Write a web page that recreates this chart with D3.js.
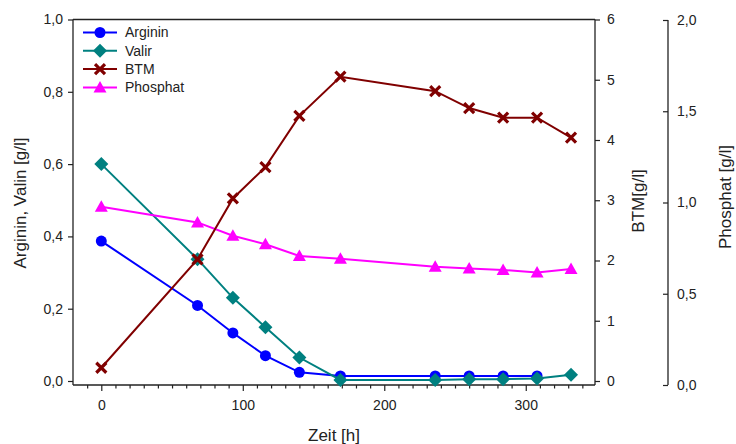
<!DOCTYPE html>
<html>
<head>
<meta charset="utf-8">
<script src="https://cdn.jsdelivr.net/npm/d3@7"></script>
<style>
  html, body { margin: 0; padding: 0; background: #fff; }
  svg { display: block; font-family: "Liberation Sans", Arial, sans-serif; }
</style>
</head>
<body>
<svg id="chart" width="736" height="444"></svg>
<script>
// Sampling times [h]
const hours = [0, 68, 93, 116, 140, 169, 236, 260, 284, 308, 332];
// Concentrations [g/l]; null = not measured
const arginin = [0.387, 0.209, 0.133, 0.070, 0.024, 0.014, 0.014, 0.014, 0.014, 0.014, null];
const valin = [0.600, 0.337, 0.230, 0.149, 0.065, 0.003, 0.003, 0.005, 0.005, 0.007, 0.017];
const btm = [0.22, 2.02, 3.03, 3.55, 4.40, 5.05, 4.81, 4.53, 4.37, 4.37, 4.04];
const phosphat = [0.977, 0.891, 0.818, 0.771, 0.707, 0.692, 0.648, 0.639, 0.630, 0.617, 0.636];

const xMajorTicks = [0, 100, 200, 300];
const leftTicks = [0, 0.2, 0.4, 0.6, 0.8, 1.0];
const btmTicks = [0, 1, 2, 3, 4, 5, 6];
const phosTicks = [0, 0.5, 1.0, 1.5, 2.0];

const seriesNames = ["Arginin", "Valir", "BTM", "Phosphat"];
const colors = { arginin: "#0000ff", valin: "#008080", btm: "#800000", phosphat: "#ff00ff" };

const svg = d3.select("#chart");
const ink = "#222";
const fmt1 = v => d3.format(".1f")(v).replace(".", ",");

const plotLeft = 73, plotRight = 595, plotTop = 19.5, plotBottom = 385, zeroY = 381;
const phosX = 668;

const x = d3.scaleLinear().domain([-20, 350]).range([plotLeft, 596.5]);
const yL = d3.scaleLinear().domain([0, 1]).range([zeroY, plotTop]);
const yB = d3.scaleLinear().domain([0, 6]).range([zeroY, plotTop]);
const yP = d3.scaleLinear().domain([0, 2]).range([plotBottom, 20]);

// Frame lines
const frame = svg.append("g").attr("stroke", ink).attr("stroke-width", 1.3).attr("fill", "none");
frame.append("line").attr("x1", plotLeft).attr("x2", plotRight).attr("y1", plotBottom).attr("y2", plotBottom);
frame.append("line").attr("x1", plotLeft).attr("x2", plotRight).attr("y1", plotTop).attr("y2", plotTop);
frame.append("line").attr("x1", plotLeft).attr("x2", plotLeft).attr("y1", plotTop).attr("y2", plotBottom);
frame.append("line").attr("x1", plotRight).attr("x2", plotRight).attr("y1", plotTop).attr("y2", plotBottom);
frame.append("line").attr("x1", phosX).attr("x2", phosX).attr("y1", yP(2)).attr("y2", yP(0));

function styleAxis(g) {
  g.select(".domain").remove();
  g.selectAll(".tick line").attr("stroke", ink).attr("stroke-width", 1.2);
  g.selectAll(".tick text").attr("fill", ink).style("font-size", "14px").style("font-family", "'Liberation Sans', Arial, sans-serif");
}

// X axis: minor ticks every 10 h, labelled majors
const minorX = d3.range(-10, 350, 10).filter(v => !xMajorTicks.includes(v));
svg.append("g").attr("transform", `translate(0,${plotBottom})`)
  .call(d3.axisBottom(x).tickValues(minorX).tickSize(3.5).tickFormat(""))
  .call(styleAxis);
svg.append("g").attr("transform", `translate(0,${plotBottom})`)
  .call(d3.axisBottom(x).tickValues(xMajorTicks).tickSize(6).tickPadding(9).tickFormat(d3.format("d")))
  .call(styleAxis);

// Left axis
svg.append("g").attr("transform", `translate(${plotLeft},0)`)
  .call(d3.axisLeft(yL).tickValues(leftTicks).tickSize(5).tickPadding(5).tickFormat(fmt1))
  .call(styleAxis);

// BTM axis
svg.append("g").attr("transform", `translate(${plotRight},0)`)
  .call(d3.axisRight(yB).tickValues(btmTicks).tickSize(5).tickPadding(7).tickFormat(d3.format("d")))
  .call(styleAxis);

// Phosphat axis (ticks point inward, labels outside)
const phosAxis = svg.append("g").attr("transform", `translate(${phosX},0)`)
  .call(d3.axisRight(yP).tickValues(phosTicks).tickSize(0).tickPadding(9).tickFormat(fmt1))
  .call(styleAxis);
phosAxis.selectAll(".tick line").attr("x1", -5).attr("x2", 0);

// Axis titles
const titleStyle = s => s.attr("fill", ink).style("font-size", "17px").attr("text-anchor", "middle");
svg.append("text").attr("x", 334).attr("y", 441).text("Zeit [h]").call(titleStyle);
svg.append("text").attr("transform", "translate(26,203) rotate(-90)").text("Arginin, Valin [g/l]").call(titleStyle);
svg.append("text").attr("transform", "translate(644,201) rotate(-90)").text("BTM[g/l]").call(titleStyle);
svg.append("text").attr("transform", "translate(731,197) rotate(-90)").text("Phosphat [g/l]").call(titleStyle);

// Marker shapes
const markers = {
  circle: (g, c) => g.append("circle").attr("r", 5.5).attr("fill", c),
  diamond: (g, c) => g.append("path").attr("d", "M0,-7L7,0L0,7L-7,0Z").attr("fill", c),
  triangle: (g, c) => g.append("path").attr("d", "M0,-6.5L6.5,5L-6.5,5Z").attr("fill", c),
  cross: (g, c) => g.append("path").attr("d", "M-5,-5L5,5M-5,5L5,-5").attr("stroke", c).attr("stroke-width", 3.2).attr("fill", "none")
};

function drawSeries(values, yScale, color, shape) {
  const pts = hours.map((h, i) => ({ h, v: values[i] })).filter(d => d.v !== null);
  const line = d3.line().x(d => x(d.h)).y(d => yScale(d.v));
  svg.append("path").datum(pts).attr("d", line)
    .attr("fill", "none").attr("stroke", color).attr("stroke-width", 2);
  const g = svg.append("g");
  pts.forEach(d => {
    const m = g.append("g").attr("transform", `translate(${x(d.h)},${yScale(d.v)})`);
    markers[shape](m, color);
  });
}

drawSeries(arginin, yL, colors.arginin, "circle");
drawSeries(valin, yL, colors.valin, "diamond");
drawSeries(phosphat, yP, colors.phosphat, "triangle");
drawSeries(btm, yB, colors.btm, "cross");

// Legend
const legend = svg.append("g");
const legendItems = [
  { name: seriesNames[0], color: colors.arginin, shape: "circle" },
  { name: seriesNames[1], color: colors.valin, shape: "diamond" },
  { name: seriesNames[2], color: colors.btm, shape: "cross" },
  { name: seriesNames[3], color: colors.phosphat, shape: "triangle" }
];
legendItems.forEach((it, i) => {
  const yy = 32.5 + i * 18.3;
  legend.append("line").attr("x1", 83).attr("x2", 117).attr("y1", yy).attr("y2", yy)
    .attr("stroke", it.color).attr("stroke-width", 2);
  const m = legend.append("g").attr("transform", `translate(100,${yy})`);
  markers[it.shape](m, it.color);
  legend.append("text").attr("x", 125).attr("y", yy).attr("dy", "0.35em")
    .attr("fill", ink).style("font-size", "14px").text(it.name);
});
</script>
</body>
</html>
